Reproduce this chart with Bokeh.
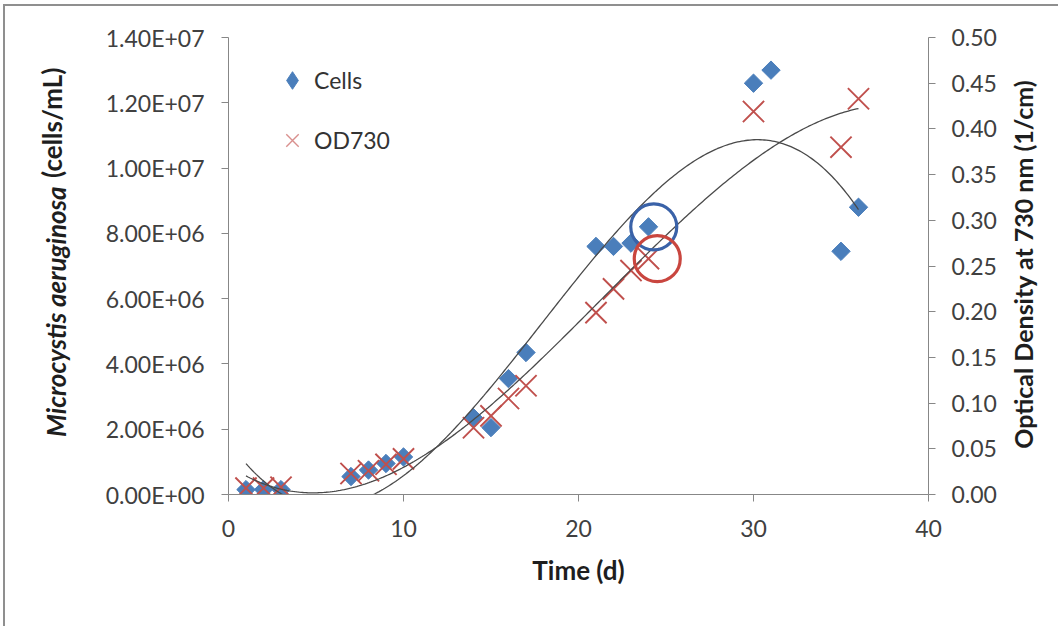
import math
import numpy as np
from bokeh.plotting import figure
from bokeh.models import (Range1d, LinearAxis, FixedTicker, CustomJSTickFormatter,
                          ColumnDataSource, Legend, LegendItem, InlineStyleSheet)
from bokeh.transform import dodge
from bokeh.embed import file_html
from bokeh.resources import INLINE

# ---------------- data ----------------
cell_days = [1, 2, 3, 7, 8, 9, 10, 14, 15, 16, 17, 21, 22, 23, 24, 30, 31, 35, 36]
cell_counts = [0.15e6, 0.15e6, 0.15e6, 0.55e6, 0.75e6, 0.95e6, 1.15e6, 2.35e6, 2.05e6,
               3.55e6, 4.35e6, 7.6e6, 7.6e6, 7.7e6, 8.2e6, 12.6e6, 13.0e6, 7.45e6, 8.8e6]
od_days = [1, 2, 3, 7, 8, 9, 10, 14, 15, 16, 17, 21, 22, 23, 24, 30, 35, 36]
od_values = [0.007, 0.007, 0.008, 0.023, 0.026, 0.033, 0.039, 0.073, 0.086, 0.105, 0.119,
             0.199, 0.225, 0.245, 0.258, 0.419, 0.380, 0.433]
x_ticks = [0, 10, 20, 30, 40]
left_ticks = [0, 2e6, 4e6, 6e6, 8e6, 10e6, 12e6, 14e6]
right_ticks = [0.0, 0.05, 0.10, 0.15, 0.20, 0.25, 0.30, 0.35, 0.40, 0.45, 0.50]
highlight_day = 24
series_names = ["Cells", "OD730"]
x_title = "Time (d)"
left_title_italic = "Microcystis aeruginosa"
left_title_rest = "(cells/mL)"
right_title = "Optical Density at 730 nm (1/cm)"

# ---------------- styles / title placement ----------------
FONT = "Lato"
BLUE = "#4a7ebb"
RED = "#c0504d"
AXIS_COLOR = "#878787"
TICK_TEXT = "#404040"
TITLE_TEXT = "#1e1e1e"
TREND = "#4a4a4a"
TICK_FS = "23px"
TITLE_FS = "26px"
RIGHT_TITLE_FS = "25px"
LEFT_TITLE_SPLIT = 9.44e6   # where the italic part ends (left-axis units)
LEFT_TITLE_TOP = 13.08e6    # where the unit part ends
RIGHT_TITLE_START = 0.05    # where the right title starts (right-axis units)

p = figure(frame_width=700, frame_height=457,
           min_border_left=228, min_border_right=130, min_border_top=37, min_border_bottom=132,
           x_range=Range1d(0, 40), y_range=Range1d(0, 14e6),
           output_backend="svg", toolbar_location=None, tools="")
p.extra_y_ranges = {"od": Range1d(0, 0.5)}
p.outline_line_color = None
p.xgrid.visible = False
p.ygrid.visible = False
p.background_fill_color = "white"
p.border_fill_color = "white"

def style_axis(ax, standoff):
    ax.axis_line_color = AXIS_COLOR
    ax.major_tick_line_color = AXIS_COLOR
    ax.minor_tick_line_color = None
    ax.major_tick_in = 0
    ax.major_tick_out = 7
    ax.major_label_text_font = FONT
    ax.major_label_text_font_size = TICK_FS
    ax.major_label_text_color = TICK_TEXT
    ax.major_label_standoff = standoff

xa = p.xaxis[0]
xa.ticker = FixedTicker(ticks=x_ticks)
style_axis(xa, 18)
xa.axis_label = x_title
xa.axis_label_text_font = FONT
xa.axis_label_text_font_size = TITLE_FS
xa.axis_label_text_font_style = "bold"
xa.axis_label_text_color = TITLE_TEXT
xa.axis_label_standoff = 14

ya = p.yaxis[0]
ya.ticker = FixedTicker(ticks=left_ticks)
ya.formatter = CustomJSTickFormatter(code="""
const s = tick.toExponential(2).split('e');
const e = parseInt(s[1]);
return s[0] + 'E' + (e < 0 ? '-' : '+') + String(Math.abs(e)).padStart(2, '0');
""")
style_axis(ya, 17)

ra = LinearAxis(y_range_name="od", ticker=FixedTicker(ticks=right_ticks),
                formatter=CustomJSTickFormatter(code="return tick.toFixed(2);"))
style_axis(ra, 16)
p.add_layout(ra, "right")

# titles drawn as the single rotated label of bare companion axes
def title_axis(text, at, style, standoff, size, range_name="default"):
    ax = LinearAxis(y_range_name=range_name, ticker=FixedTicker(ticks=[at]),
                    formatter=CustomJSTickFormatter(args=dict(t=text), code="return t;"))
    ax.axis_line_color = None
    ax.major_tick_line_color = None
    ax.minor_tick_line_color = None
    ax.major_tick_in = 0
    ax.major_tick_out = 0
    ax.major_label_orientation = math.pi / 2
    ax.major_label_standoff = standoff
    ax.major_label_text_font = FONT
    ax.major_label_text_font_size = size
    ax.major_label_text_font_style = style
    ax.major_label_text_color = TITLE_TEXT
    return ax

p.add_layout(title_axis(left_title_italic, LEFT_TITLE_SPLIT, "bold italic", 46, TITLE_FS), "left")
p.add_layout(title_axis(left_title_rest, LEFT_TITLE_TOP, "bold", -31, TITLE_FS), "left")
p.add_layout(title_axis(right_title, RIGHT_TITLE_START, "bold", 24, RIGHT_TITLE_FS, "od"), "right")

# ---------------- marks ----------------
cell_src = ColumnDataSource(dict(x=cell_days, y=cell_counts))
od_src = ColumnDataSource(dict(x=od_days, y=od_values))

p.scatter("x", "y", source=cell_src, marker="square", angle=math.pi / 4, size=13,
          fill_color=BLUE, line_color=BLUE)
p.scatter("x", "y", source=od_src, marker="x", size=30, line_color=RED, line_width=1.9,
          y_range_name="od")

# polynomial (order 3) trendlines fitted to the data, as in the original spreadsheet
cx = np.linspace(min(cell_days), max(cell_days), 300)
cfit = np.polyval(np.polyfit(cell_days, cell_counts, 3), cx)
ox = np.linspace(min(od_days), max(od_days), 300)
ofit = np.polyval(np.polyfit(od_days, od_values, 3), ox)
p.line(cx, cfit, line_color=TREND, line_width=1.3)
p.line(ox, ofit, line_color=TREND, line_width=1.3, y_range_name="od")

# highlight circles around the chosen day
ci = cell_days.index(highlight_day)
oi = od_days.index(highlight_day)
hc = ColumnDataSource(dict(x=[cell_days[ci]], y=[cell_counts[ci]]))
ho = ColumnDataSource(dict(x=[od_days[oi]], y=[od_values[oi]]))
p.scatter(dodge("x", 0.3), "y", source=hc, marker="circle", size=46, fill_color=None,
          line_color="#3a62a8", line_width=3.2)
p.scatter(dodge("x", 0.5), "y", source=ho, marker="circle", size=46, fill_color=None,
          line_color="#c9463f", line_width=3.2, y_range_name="od")

# legend symbols: zero-size renderers on the real data, used only for the legend
lg_c = p.scatter("x", "y", source=cell_src, marker="diamond", size=0,
                 fill_color=BLUE, line_color=BLUE)
lg_o = p.scatter("x", "y", source=od_src, marker="x", size=0, line_color="#d9908e",
                 line_width=1.4, y_range_name="od")
legend = Legend(items=[LegendItem(label=series_names[0], renderers=[lg_c]),
                       LegendItem(label=series_names[1], renderers=[lg_o])],
                location=(42, 331), orientation="vertical",
                glyph_width=44, glyph_height=46, label_height=46, spacing=14,
                label_standoff=0, padding=0, margin=0,
                border_line_color=None, background_fill_alpha=0,
                label_text_font=FONT, label_text_font_size="23px", label_text_color="#333333")
p.add_layout(legend)

p.stylesheets = [InlineStyleSheet(css=":host{position:relative;} :host::after{content:'';position:absolute;"
                                      "left:3px;top:4px;right:0;bottom:0;border-left:2px solid #8f8f8f;"
                                      "border-top:2px solid #8f8f8f;pointer-events:none;}")]

open("out.html", "w").write(file_html(p, INLINE))
